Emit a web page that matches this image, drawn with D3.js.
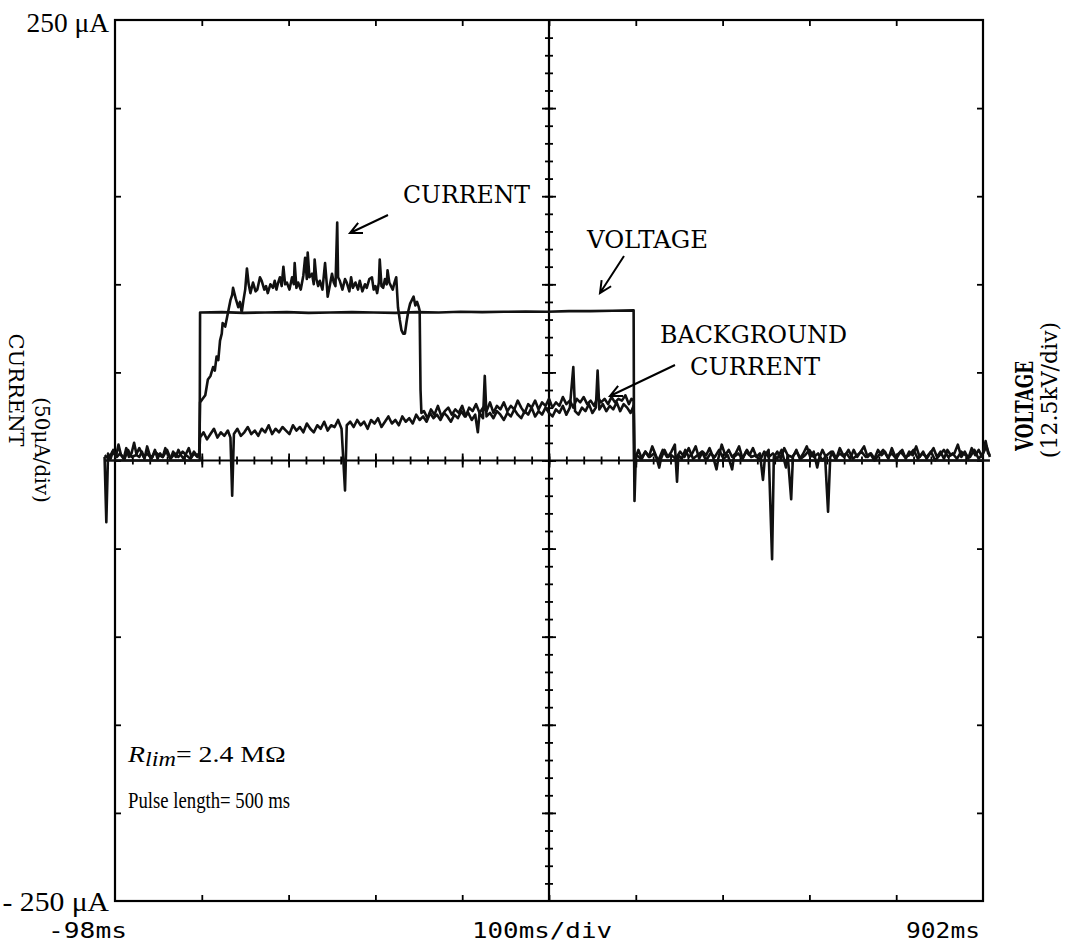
<!DOCTYPE html>
<html>
<head>
<meta charset="utf-8">
<script src="https://cdn.jsdelivr.net/npm/d3@7"></script>
<style>
  body { margin: 0; background: #fff; }
  svg { display: block; }
  .frame { fill: none; stroke: #000; stroke-width: 2.2; }
  .tick line { stroke: #000; stroke-width: 1.8; }
  .trace { fill: none; stroke: #111; stroke-width: 2.6; stroke-linejoin: round; }
  .arrow { fill: none; stroke: #000; stroke-width: 2; }
  .serif { font-family: "DejaVu Serif", serif; fill: #000; }
  .times { font-family: "Liberation Serif", "Times New Roman", serif; fill: #000; }
  .mono { font-family: "DejaVu Sans Mono", monospace; fill: #000; }
</style>
</head>
<body>
<div id="chart"></div>
<script>
// ---- data: [time in ms, value] ----
var xTickLabels = ["-98ms", "100ms/div", "902ms"];
var yTickLabels = ["250 \u03bcA", "- 250 \u03bcA"];
var leftTitle = ["CURRENT", "(50\u03bcA/div)"];
var rightTitle = ["VOLTAGE", "(12.5kV/div)"];
var traceLabels = ["CURRENT", "VOLTAGE", "BACKGROUND", "CURRENT"];
var noteLines = ["= 2.4 M\u03a9", "Pulse length= 500 ms"];

// voltage in kV
var voltageTrace = [[-110,0],[-0.5,0],[0,21.0],[25,21.05],[50,20.95],[75,21.0],[100,21.05],[125,20.95],
  [150,21.0],[175,21.05],[200,21.0],[225,20.95],[250,21.05],[275,21.0],[300,21.1],[325,21.05],
  [350,21.1],[375,21.15],[400,21.1],[425,21.2],[450,21.2],[475,21.25],[499.5,21.3],[500,0],[910,0]];

// current with discharge, in uA
var currentTrace = [[-110,2],[-108,-35],[-106,4],[-103,1],[-100,6],[-97,2],[-94,9],[-91,3],[-88,1],
  [-85,7],[-82,2],[-79,4],[-76,10],[-73,3],[-70,2],[-67,5],[-64,1],[-61,8],[-58,3],[-55,2],[-52,6],
  [-49,1],[-46,4],[-43,2],[-40,7],[-37,3],[-34,1],[-31,5],[-28,2],[-25,6],[-22,3],[-19,1],[-16,4],
  [-13,7],[-10,2],[-7,5],[-4,3],[-1,4],
  [0,33],[3,35],[6,37],[9,46],[12,48],[15,53],[17,51],[19,59],[21,57],[23,68],[25,72],[26,78],
  [29,76],[31,81],[33,86],[35,91],[37,94],[38,98],[41,92],[44,87],[46,90],[48,84],[50,91],[52,97],
  [54,109],[56,100],[58,95],[61,101],[64,96],[66,97],[69,104],[71,102],[74,97],[76,99],[78,95],
  [81,100],[84,98],[86,102],[88,97],[90,101],[92,104],[94,99],[96,110],[98,100],[100,101],[103,97],
  [106,104],[108,100],[109,112],[111,98],[113,101],[116,97],[119,105],[121,115],[123,103],[124,118],
  [126,104],[129,106],[131,100],[132,114],[134,103],[136,99],[138,102],[141,97],[144,112],[146,100],
  [147,93],[149,98],[152,106],[154,101],[156,99],[158,135],[159,104],[161,102],[164,97],[167,103],
  [169,101],[172,96],[174,104],[176,98],[179,101],[182,97],[184,102],[187,96],[190,100],[192,98],
  [195,103],[198,104],[200,97],[202,99],[204,95],[206,101],[207,114],[209,99],[211,98],[213,103],
  [215,100],[216,108],[218,101],[220,99],[222,97],[224,101],[226,104],[228,87],[230,80],[232,74],
  [234,72],[236,72],[238,79],[240,85],[242,89],[244,91],[246,93],[248,88],[250,90],[252,87],
  [253,85],[254,40],[255,27],
  [258,28],[262,24],[266,29],[270,26],[274,31],[278,25],[282,28],[286,30],[290,26],[294,29],
  [298,27],[302,31],[306,25],[310,30],[314,28],[318,32],[322,27],[326,30],[330,28],[334,33],
  [338,27],[342,31],[346,29],[350,33],[354,28],[358,31],[362,29],[366,34],[370,30],[374,27],
  [378,32],[382,30],[386,34],[390,29],[394,33],[398,31],[402,35],[406,30],[410,33],[414,31],
  [418,36],[422,32],[426,34],[430,30],[434,35],[438,33],[442,36],[446,32],[450,34],[454,31],
  [458,36],[462,33],[466,35],[470,32],[474,36],[478,33],[482,35],[486,34],[490,37],[494,32],
  [497,35],[499.5,34],[500.5,-23],[502,2],
  [505,6],[509,1],[513,5],[517,2],[521,8],[525,3],[529,-4],[531,1],[535,6],[539,2],[543,5],
  [547,9],[549.5,-12],[551,3],[555,1],[559,6],[563,2],[567,4],[571,8],[575,1],[579,5],[583,3],
  [587,7],[591,2],[595,-5],[597,1],[601,9],[605,3],[609,6],[613,2],[617,4],[621,8],[625,1],
  [629,5],[633,3],[637,7],[641,2],[645,4],[648.5,-11],[651,3],[655,6],[659,-56],[661,2],[665,5],
  [669,1],[673,7],[677,3],[681,-22],[683,2],[687,6],[691,1],[695,4],[699,8],[703,2],[707,5],
  [711,-4],[713,1],[717,6],[720,3],[723.5,-29],[726,2],[729,5],[733,1],[737,7],[741,3],[745,4],
  [749,1],[753,6],[757,2],[761,5],[765,8],[769,2],[773,4],[777,1],[781,6],[785,3],[789,5],
  [793,1],[797,7],[801,2],[805,4],[809,6],[813,1],[817,5],[821,3],[825,8],[829,2],[833,5],
  [837,1],[841,4],[845,7],[849,2],[853,5],[857,1],[861,6],[865,3],[869,4],[873,9],[877,2],
  [881,5],[885,1],[889,7],[893,3],[897,6],[901,2],[905,11],[908,4],[910,3]];

// background current (no discharge), in uA
var backgroundTrace = [[-110,3],[-105,1],[-101,5],[-96,2],[-92,4],[-87,1],[-83,6],[-79,2],[-74,3],
  [-70,7],[-65,2],[-61,4],[-56,1],[-52,5],[-47,3],[-43,2],[-38,6],[-34,1],[-29,4],[-25,2],[-20,5],
  [-16,3],[-11,1],[-7,4],[-3,2],[-1,3],
  [0,13],[4,16],[8,12],[12,15],[16,18],[20,13],[24,16],[28,14],[32,17],[35,13],[37,-20],[39,15],
  [43,18],[47,14],[51,16],[55,19],[59,15],[63,17],[67,14],[71,18],[75,16],[79,20],[83,15],[87,18],
  [91,16],[95,19],[99,17],[103,15],[107,20],[111,17],[115,19],[119,16],[123,21],[127,18],[131,16],
  [135,20],[139,18],[143,22],[147,17],[151,20],[155,19],[159,23],[163,18],[167,-17],[169,20],
  [173,22],[177,19],[181,23],[185,20],[189,22],[193,18],[197,23],[201,21],[205,24],[209,19],
  [213,22],[217,25],[221,21],[225,23],[229,20],[233,25],[237,22],[241,24],[245,21],[249,26],
  [253,23],[257,25],[261,22],[265,27],[269,24],[273,26],[277,23],[281,27],[285,25],[289,22],
  [293,26],[297,24],[301,28],[305,25],[309,27],[313,23],[317,26],[320,16],[322,27],[326,24],
  [328,48],[330,25],[334,27],[338,24],[342,28],[346,26],[350,23],[354,27],[358,25],[362,29],
  [366,26],[370,24],[374,28],[378,26],[382,30],[386,25],[390,28],[394,26],[398,30],[402,27],
  [406,25],[410,29],[414,27],[418,31],[422,26],[426,30],[430,53],[432,28],[436,26],[440,30],
  [444,28],[448,32],[452,27],[456,30],[458,51],[460,29],[464,32],[468,28],[472,31],[476,29],
  [480,33],[484,28],[488,32],[492,30],[496,27],[499.5,31],[500.5,2],
  [503,3],[508,1],[513,5],[518,2],[523,4],[528,0],[533,6],[538,2],[543,3],[548,1],[553,5],[558,2],
  [563,7],[568,1],[573,3],[578,5],[583,0],[588,4],[593,2],[598,6],[603,1],[608,3],[613,-5],[615,2],
  [620,4],[625,1],[630,6],[635,2],[640,3],[645,0],[650,5],[655,2],[660,4],[665,1],[670,6],[675,-4],
  [677,3],[682,2],[687,5],[692,1],[697,3],[702,6],[707,2],[712,4],[717,0],[722,3],[727,5],[732,1],
  [737,4],[742,2],[747,6],[752,1],[757,3],[762,5],[767,2],[772,4],[777,0],[782,3],[787,6],[792,2],
  [797,4],[802,1],[807,5],[812,2],[817,3],[822,6],[827,1],[832,4],[837,2],[842,5],[847,0],[852,3],
  [857,6],[862,2],[867,4],[872,1],[877,5],[882,3],[887,2],[892,6],[897,1],[902,4],[906,8],[910,2]];

// ---- layout ----
var W = 1071, H = 943;
var box = { left: 115, right: 983, top: 20, bottom: 901 };

var x = d3.scaleLinear().domain([-98, 902]).range([box.left, box.right]);
var yI = d3.scaleLinear().domain([-250, 250]).range([box.bottom, box.top]);
var yV = d3.scaleLinear().domain([-62.5, 62.5]).range([box.bottom, box.top]);

var xMajor = d3.range(2, 900, 100);
var xMinor = d3.range(-78, 902, 20);
var yMajor = d3.range(-200, 201, 50);
var yMinor = d3.range(-240, 250, 10);

var svg = d3.select("#chart").append("svg")
  .attr("width", W)
  .attr("height", H);

function cleanAxis(g) {
  g.select(".domain").remove();
  g.selectAll("text").remove();
}

// border ticks (major divisions only, pointing inward)
svg.append("g").attr("transform", "translate(0," + box.top + ")")
  .call(d3.axisBottom(x).tickValues(xMajor).tickSize(6)).call(cleanAxis);
svg.append("g").attr("transform", "translate(0," + box.bottom + ")")
  .call(d3.axisTop(x).tickValues(xMajor).tickSize(6)).call(cleanAxis);
svg.append("g").attr("transform", "translate(" + box.left + ",0)")
  .call(d3.axisRight(yI).tickValues(yMajor).tickSize(6)).call(cleanAxis);
svg.append("g").attr("transform", "translate(" + box.right + ",0)")
  .call(d3.axisLeft(yI).tickValues(yMajor).tickSize(6)).call(cleanAxis);

// centre graticule with cross ticks
var cx = x(402), cy = yI(0);
svg.append("line").attr("class", "frame")
  .attr("x1", cx).attr("x2", cx).attr("y1", box.top).attr("y2", box.bottom);
svg.append("line").attr("class", "frame")
  .attr("x1", box.left).attr("x2", box.right).attr("y1", cy).attr("y2", cy);

svg.append("g").attr("transform", "translate(0," + (cy - 4) + ")")
  .call(d3.axisBottom(x).tickValues(xMinor).tickSize(8)).call(cleanAxis);
svg.append("g").attr("transform", "translate(0," + (cy - 7) + ")")
  .call(d3.axisBottom(x).tickValues(xMajor).tickSize(14)).call(cleanAxis);
svg.append("g").attr("transform", "translate(" + (cx - 4) + ",0)")
  .call(d3.axisRight(yI).tickValues(yMinor).tickSize(8)).call(cleanAxis);
svg.append("g").attr("transform", "translate(" + (cx - 7) + ",0)")
  .call(d3.axisRight(yI).tickValues(yMajor).tickSize(14)).call(cleanAxis);

svg.append("rect").attr("class", "frame")
  .attr("x", box.left).attr("y", box.top)
  .attr("width", box.right - box.left).attr("height", box.bottom - box.top);

// traces
var lineI = d3.line().x(function(d) { return x(d[0]); }).y(function(d) { return yI(d[1]); });
var lineV = d3.line().x(function(d) { return x(d[0]); }).y(function(d) { return yV(d[1]); });

svg.append("path").attr("class", "trace").attr("d", lineV(voltageTrace));
svg.append("path").attr("class", "trace").attr("d", lineI(backgroundTrace));
svg.append("path").attr("class", "trace").attr("d", lineI(currentTrace));

// stretch a text horizontally to a measured width
function fit(sel, w) {
  var bw = sel.node().getBBox().width;
  return w / bw;
}

// tick labels
var t1 = svg.append("text").attr("class", "times").style("font-size", "27px")
  .attr("text-anchor", "end").text(yTickLabels[0]);
t1.attr("transform", "translate(109,32) scale(" + fit(t1, 83) + ",1)");
var t2 = svg.append("text").attr("class", "times").style("font-size", "27px")
  .attr("text-anchor", "end").text(yTickLabels[1]);
t2.attr("transform", "translate(109,911) scale(" + fit(t2, 107) + ",1)");

var xl = [[48, 79], [472, 140], [906, 74]];
xTickLabels.forEach(function(s, i) {
  svg.append("text").attr("class", "mono").style("font-size", "21px")
    .attr("x", xl[i][0]).attr("y", 938)
    .attr("textLength", xl[i][1]).attr("lengthAdjust", "spacingAndGlyphs")
    .text(s);
});

// trace labels and arrows
var lab = [[403, 203, 127], [587, 248, 121], [660, 343, 187], [690, 375, 130]];
traceLabels.forEach(function(s, i) {
  svg.append("text").attr("class", "serif").style("font-size", "24px")
    .attr("x", lab[i][0]).attr("y", lab[i][1])
    .attr("textLength", lab[i][2]).attr("lengthAdjust", "spacingAndGlyphs")
    .text(s);
});

function arrow(x1, y1, x2, y2) {
  var a = Math.atan2(y1 - y2, x1 - x2), L = 13, s = 0.45;
  var p = "M" + x1 + "," + y1 + "L" + x2 + "," + y2 +
    "M" + (x2 + L * Math.cos(a + s)) + "," + (y2 + L * Math.sin(a + s)) +
    "L" + x2 + "," + y2 +
    "L" + (x2 + L * Math.cos(a - s)) + "," + (y2 + L * Math.sin(a - s));
  svg.append("path").attr("class", "arrow").attr("d", p);
}
arrow(388, 215, 350, 233);
arrow(624, 256, 600, 293);
arrow(675, 365, 610, 396);

// axis titles
var l1 = svg.append("text").attr("class", "serif").style("font-size", "21px")
  .attr("text-anchor", "middle").text(leftTitle[0]);
l1.attr("transform", "translate(9,390) rotate(90)");
var l2 = svg.append("text").attr("class", "serif").style("font-size", "20px")
  .attr("text-anchor", "middle").text(leftTitle[1]);
l2.attr("transform", "translate(35,450) rotate(90)");

var r1 = svg.append("text").attr("class", "serif").style("font-size", "24px")
  .style("font-weight", "bold")
  .attr("text-anchor", "middle").attr("textLength", 90).attr("lengthAdjust", "spacingAndGlyphs")
  .text(rightTitle[0]);
r1.attr("transform", "translate(1033,406) rotate(-90)");
var r2 = svg.append("text").attr("class", "serif").style("font-size", "22px")
  .attr("text-anchor", "middle").text(rightTitle[1]);
r2.attr("transform", "translate(1057,390) rotate(-90)");

// annotation
var n1 = svg.append("text").attr("class", "times").style("font-size", "23px");
n1.append("tspan").style("font-style", "italic").text("R");
n1.append("tspan").style("font-style", "italic").style("font-size", "20px")
  .attr("dy", 4).text("lim");
n1.append("tspan").attr("dy", -4).text(noteLines[0]);
n1.attr("transform", "translate(128,762) scale(" + fit(n1, 159) + ",1)");

svg.append("text").attr("class", "times").style("font-size", "23px")
  .attr("x", 128).attr("y", 808)
  .attr("textLength", 162).attr("lengthAdjust", "spacingAndGlyphs")
  .text(noteLines[1]);
</script>
</body>
</html>
